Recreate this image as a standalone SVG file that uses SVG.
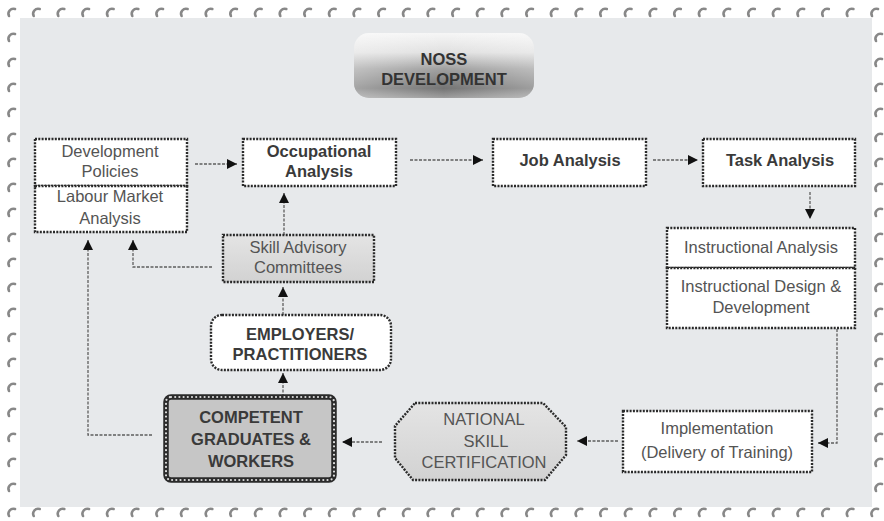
<svg xmlns="http://www.w3.org/2000/svg" xmlns:xlink="http://www.w3.org/1999/xlink" width="884" height="521" viewBox="0 0 884 521">
<style>
.box{fill:#ffffff;stroke:#2a2a2a;stroke-width:2.4;stroke-dasharray:2 1.3}
.t{font-family:"Liberation Sans",Arial,sans-serif;font-size:16.5px;fill:#545454;text-anchor:middle}
.b{font-family:"Liberation Sans",Arial,sans-serif;font-size:16.5px;font-weight:bold;fill:#3a3a3a;text-anchor:middle}
.c{fill:none;stroke:#5e5e5e;stroke-width:1.3;stroke-dasharray:3 1.5}
.mk{fill:none;stroke:#888;stroke-width:2.6;stroke-linecap:round}
</style>
<defs>
<linearGradient id="noss" x1="0" y1="0" x2="0" y2="1">
<stop offset="0" stop-color="#f6f6f6"/>
<stop offset="0.3" stop-color="#e0e0e0"/>
<stop offset="0.55" stop-color="#a0a0a0"/>
<stop offset="0.85" stop-color="#747474"/>
<stop offset="1" stop-color="#9e9e9e"/>
</linearGradient>
<linearGradient id="nossH" x1="0" y1="0" x2="1" y2="0">
<stop offset="0" stop-color="#ffffff" stop-opacity="0.35"/>
<stop offset="0.5" stop-color="#ffffff" stop-opacity="0"/>
<stop offset="1" stop-color="#ffffff" stop-opacity="0.3"/>
</linearGradient>
<linearGradient id="grey" x1="0" y1="0" x2="0" y2="1">
<stop offset="0" stop-color="#e4e4e4"/>
<stop offset="1" stop-color="#d2d2d2"/>
</linearGradient>
<marker id="ah" viewBox="0 0 10 10" refX="10" refY="5" markerWidth="10" markerHeight="10" markerUnits="userSpaceOnUse" orient="auto">
<path d="M0,0 L10,5 L0,10 Z" fill="#111"/>
</marker>
<path id="m" class="mk" d="M-3,4 A5,5 0 0 1 3,-3"/>
</defs>

<rect x="0" y="0" width="884" height="521" fill="#ffffff"/>
<rect x="20" y="18" width="852" height="489" fill="#e7e9eb"/>

<g id="perforation">
<use href="#m" x="12" y="12"/><use href="#m" x="36.7" y="12"/><use href="#m" x="61.3" y="12"/><use href="#m" x="86" y="12"/><use href="#m" x="110.6" y="12"/><use href="#m" x="135.3" y="12"/><use href="#m" x="160" y="12"/><use href="#m" x="184.6" y="12"/><use href="#m" x="209.3" y="12"/><use href="#m" x="233.9" y="12"/><use href="#m" x="258.6" y="12"/><use href="#m" x="283.3" y="12"/><use href="#m" x="307.9" y="12"/><use href="#m" x="332.6" y="12"/><use href="#m" x="357.2" y="12"/><use href="#m" x="381.9" y="12"/><use href="#m" x="406.6" y="12"/><use href="#m" x="431.2" y="12"/><use href="#m" x="455.9" y="12"/><use href="#m" x="480.5" y="12"/><use href="#m" x="505.2" y="12"/><use href="#m" x="529.9" y="12"/><use href="#m" x="554.5" y="12"/><use href="#m" x="579.2" y="12"/><use href="#m" x="603.8" y="12"/><use href="#m" x="628.5" y="12"/><use href="#m" x="653.2" y="12"/><use href="#m" x="677.8" y="12"/><use href="#m" x="702.5" y="12"/><use href="#m" x="727.1" y="12"/><use href="#m" x="751.8" y="12"/><use href="#m" x="776.5" y="12"/><use href="#m" x="801.1" y="12"/><use href="#m" x="825.8" y="12"/><use href="#m" x="850.4" y="12"/><use href="#m" x="875" y="12"/>
<use href="#m" x="12" y="512"/><use href="#m" x="36.7" y="512"/><use href="#m" x="61.3" y="512"/><use href="#m" x="86" y="512"/><use href="#m" x="110.6" y="512"/><use href="#m" x="135.3" y="512"/><use href="#m" x="160" y="512"/><use href="#m" x="184.6" y="512"/><use href="#m" x="209.3" y="512"/><use href="#m" x="233.9" y="512"/><use href="#m" x="258.6" y="512"/><use href="#m" x="283.3" y="512"/><use href="#m" x="307.9" y="512"/><use href="#m" x="332.6" y="512"/><use href="#m" x="357.2" y="512"/><use href="#m" x="381.9" y="512"/><use href="#m" x="406.6" y="512"/><use href="#m" x="431.2" y="512"/><use href="#m" x="455.9" y="512"/><use href="#m" x="480.5" y="512"/><use href="#m" x="505.2" y="512"/><use href="#m" x="529.9" y="512"/><use href="#m" x="554.5" y="512"/><use href="#m" x="579.2" y="512"/><use href="#m" x="603.8" y="512"/><use href="#m" x="628.5" y="512"/><use href="#m" x="653.2" y="512"/><use href="#m" x="677.8" y="512"/><use href="#m" x="702.5" y="512"/><use href="#m" x="727.1" y="512"/><use href="#m" x="751.8" y="512"/><use href="#m" x="776.5" y="512"/><use href="#m" x="801.1" y="512"/><use href="#m" x="825.8" y="512"/><use href="#m" x="850.4" y="512"/><use href="#m" x="875" y="512"/>
<use href="#m" x="12" y="37"/><use href="#m" x="12" y="62"/><use href="#m" x="12" y="87"/><use href="#m" x="12" y="112"/><use href="#m" x="12" y="137"/><use href="#m" x="12" y="162"/><use href="#m" x="12" y="187"/><use href="#m" x="12" y="212"/><use href="#m" x="12" y="237"/><use href="#m" x="12" y="262"/><use href="#m" x="12" y="287"/><use href="#m" x="12" y="312"/><use href="#m" x="12" y="337"/><use href="#m" x="12" y="362"/><use href="#m" x="12" y="387"/><use href="#m" x="12" y="412"/><use href="#m" x="12" y="437"/><use href="#m" x="12" y="462"/><use href="#m" x="12" y="487"/>
<use href="#m" x="879" y="37"/><use href="#m" x="879" y="62"/><use href="#m" x="879" y="87"/><use href="#m" x="879" y="112"/><use href="#m" x="879" y="137"/><use href="#m" x="879" y="162"/><use href="#m" x="879" y="187"/><use href="#m" x="879" y="212"/><use href="#m" x="879" y="237"/><use href="#m" x="879" y="262"/><use href="#m" x="879" y="287"/><use href="#m" x="879" y="312"/><use href="#m" x="879" y="337"/><use href="#m" x="879" y="362"/><use href="#m" x="879" y="387"/><use href="#m" x="879" y="412"/><use href="#m" x="879" y="437"/><use href="#m" x="879" y="462"/><use href="#m" x="879" y="487"/>
</g>

<g id="connectors">
<line class="c" x1="195" y1="164" x2="237" y2="164" marker-end="url(#ah)"/>
<line class="c" x1="410" y1="160" x2="483" y2="160" marker-end="url(#ah)"/>
<line class="c" x1="653" y1="160" x2="698" y2="160" marker-end="url(#ah)"/>
<line class="c" x1="810" y1="192" x2="810" y2="219" marker-end="url(#ah)"/>
<polyline class="c" points="837,329 837,443 818,443" marker-end="url(#ah)"/>
<line class="c" x1="618" y1="441" x2="577" y2="441" marker-end="url(#ah)"/>
<line class="c" x1="382" y1="442" x2="342" y2="442" marker-end="url(#ah)"/>
<line class="c" x1="283" y1="397" x2="283" y2="373" marker-end="url(#ah)"/>
<line class="c" x1="283" y1="315" x2="283" y2="287" marker-end="url(#ah)"/>
<line class="c" x1="284" y1="235" x2="284" y2="193" marker-end="url(#ah)"/>
<polyline class="c" points="212,267 133,267 133,240" marker-end="url(#ah)"/>
<polyline class="c" points="152,435 88,435 88,240" marker-end="url(#ah)"/>
</g>

<g id="noss-development">
<rect x="354" y="33" width="180" height="65" rx="15" fill="url(#noss)"/>
<rect x="354" y="33" width="180" height="65" rx="15" fill="url(#nossH)"/>
<text class="b" x="444" y="65" style="fill:#333">NOSS</text>
<text class="b" x="444" y="85" style="fill:#333">DEVELOPMENT</text>
</g>

<g id="development-policies">
<rect class="box" x="35" y="139" width="152" height="47"/>
<text class="t" x="110" y="157">Development</text>
<text class="t" x="110" y="177">Policies</text>
</g>
<g id="labour-market">
<rect class="box" x="35" y="186" width="152" height="46"/>
<text class="t" x="110" y="202">Labour Market</text>
<text class="t" x="110" y="224">Analysis</text>
</g>

<g id="occupational-analysis">
<rect class="box" x="243" y="139" width="153" height="47"/>
<text class="b" x="319" y="157">Occupational</text>
<text class="b" x="319" y="177">Analysis</text>
</g>

<g id="job-analysis">
<rect class="box" x="493" y="139" width="153" height="47"/>
<text class="b" x="570" y="166">Job Analysis</text>
</g>

<g id="task-analysis">
<rect class="box" x="703" y="139" width="152" height="47"/>
<text class="b" x="780" y="166">Task Analysis</text>
</g>

<g id="instructional-analysis">
<rect class="box" x="667" y="228" width="188" height="40"/>
<text class="t" x="761" y="253">Instructional Analysis</text>
</g>
<g id="instructional-design">
<rect class="box" x="667" y="268" width="188" height="60"/>
<text class="t" x="761" y="292">Instructional Design &amp;</text>
<text class="t" x="761" y="313">Development</text>
</g>

<g id="implementation">
<rect class="box" x="623" y="411" width="189" height="61"/>
<text class="t" x="717" y="434">Implementation</text>
<text class="t" x="717" y="458">(Delivery of Training)</text>
</g>

<g id="national-skill-certification">
<polygon class="box" style="fill:url(#grey)" points="415,403 543,403 566,427 566,455 545,480 413,480 395,458 395,426"/>
<text class="t" x="484" y="425">NATIONAL</text>
<text class="t" x="486" y="447">SKILL</text>
<text class="t" x="484" y="468">CERTIFICATION</text>
</g>

<g id="competent-graduates">
<rect x="166" y="397" width="168" height="83" rx="5" fill="#c6c6c6" stroke="#2a2a2a" stroke-width="5.5"/>
<rect x="166" y="397" width="168" height="83" rx="5" fill="none" stroke="#dcdcdc" stroke-width="2.2" stroke-linecap="round" stroke-dasharray="0 4.2"/>
<text class="b" x="251" y="423">COMPETENT</text>
<text class="b" x="251" y="445">GRADUATES &amp;</text>
<text class="b" x="251" y="467">WORKERS</text>
</g>

<g id="employers-practitioners">
<rect class="box" x="211" y="315" width="180" height="55" rx="11"/>
<text class="b" x="300" y="340">EMPLOYERS/</text>
<text class="b" x="300" y="360">PRACTITIONERS</text>
</g>

<g id="skill-advisory-committees">
<rect class="box" style="fill:url(#grey)" x="223" y="235" width="151" height="47"/>
<text class="t" x="298" y="253">Skill Advisory</text>
<text class="t" x="298" y="273">Committees</text>
</g>
</svg>
